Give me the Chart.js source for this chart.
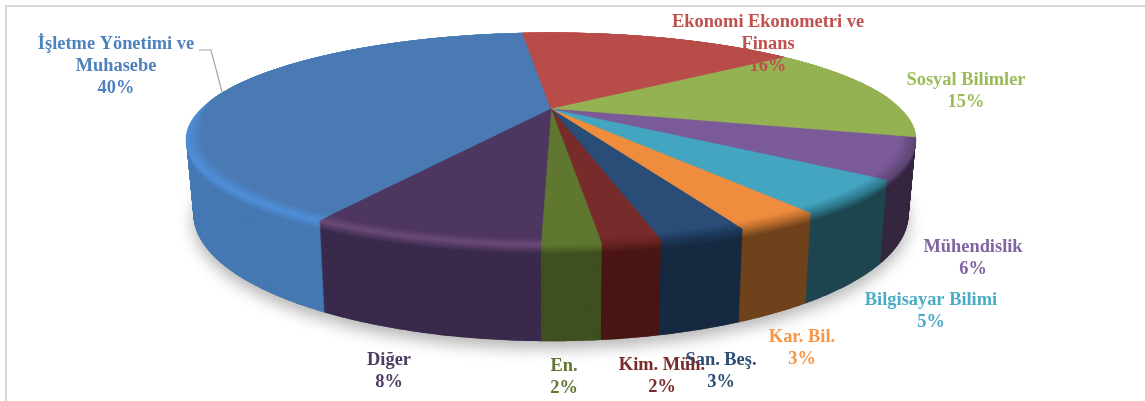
<!DOCTYPE html>
<html>
<head>
<meta charset="utf-8">
<style>html,body{margin:0;padding:0;background:#fff}canvas{display:block}</style>
<script src="https://cdn.jsdelivr.net/npm/chart.js@4/dist/chart.umd.min.js"></script>
</head>
<body>
<canvas id="c" width="1145" height="401"></canvas>
<script>
// Field-of-study shares, shown as a tilted pie with a thick rim
const categories = ["İşletme Yönetimi ve Muhasebe", "Ekonomi Ekonometri ve Finans", "Sosyal Bilimler", "Mühendislik", "Bilgisayar Bilimi", "Kar. Bil.", "San. Beş.", "Kim. Müh.", "En.", "Diğer"];
const shares = [40, 16, 15, 6, 5, 3, 3, 2, 2, 8];

const topColors  = ["#4a7ab3", "#b84c49", "#95b253", "#7b5a99", "#44a5c0", "#ee8d3e", "#2a4d78", "#772c2b", "#5f772f", "#4d3660"];
const rimColors  = ["#4f8fd8", "#b84c49", "#95b253", "#5e4675", "#2f7a8e", "#b96d30", "#1f3a5c", "#6a2524", "#5f772f", "#6b4a78"];
const wallColors = ["#4679b3", "#8f3a38", "#6f8a3c", "#35263f", "#1f4650", "#70431d", "#172a42", "#4a1615", "#3f5020", "#3a2a4c"];
const textColors = ["#4f81bd", "#c0504d", "#9bbb59", "#8064a2", "#4bacc6", "#f79646", "#2c4d75", "#772c2a", "#5f7530", "#4d3b62"];

// Wrapped label lines and their anchor (centre x, first line middle y)
const labelLines = [["İşletme Yönetimi ve", "Muhasebe"], ["Ekonomi Ekonometri ve", "Finans"], ["Sosyal Bilimler"], ["Mühendislik"], ["Bilgisayar Bilimi"], ["Kar. Bil."], ["San. Beş."], ["Kim. Müh."], ["En."], ["Diğer"]];
const labelSpots = [[116, 44], [768, 22], [966, 80], [973, 247], [931, 300], [802, 337], [721, 360], [662, 365], [564, 366], [389, 360]];

// Perspective applied to the flat pie: far side shrinks, near side grows
const TILT = { a: 350, b: 97.5, k: 0.283, depth: 69, taper: 0.02 };

function project(cx, cy, angle, radial, t) {
  const ux = Math.cos(angle) * radial, uy = Math.sin(angle) * radial;
  const w = 1 - TILT.k * uy;
  return [
    cx + TILT.a * ux * (1 - TILT.taper * t) / w,
    cy + (TILT.b * uy + TILT.depth * t) / w
  ];
}

// inset pulls the outer edge inward, only on the side facing the viewer
function slicePath(ctx, arc, t, inset) {
  const p0 = project(arc.x, arc.y, 0, 0, t);
  ctx.beginPath();
  ctx.moveTo(p0[0], p0[1]);
  const n = Math.max(4, Math.ceil((arc.endAngle - arc.startAngle) / 0.01));
  for (let i = 0; i <= n; i++) {
    const ang = arc.startAngle + (arc.endAngle - arc.startAngle) * i / n;
    const facing = Math.min(1, Math.max(0, (Math.sin(ang) + 0.1) / 0.3));
    const p = project(arc.x, arc.y, ang, 1 - inset * facing, t);
    ctx.lineTo(p[0], p[1]);
  }
  ctx.closePath();
}

function mix(c1, c2, f) {
  const v = (c, i) => parseInt(c.substr(1 + i * 2, 2), 16);
  const ch = i => Math.round(v(c1, i) + (v(c2, i) - v(c1, i)) * f);
  return "rgb(" + ch(0) + "," + ch(1) + "," + ch(2) + ")";
}

function wallShade(i, t) {
  return t < 0.1 ? mix(rimColors[i], wallColors[i], t / 0.1) : wallColors[i];
}

const tiltedPie = {
  id: "tiltedPie",
  beforeDatasetsDraw(chart) {
    const ctx = chart.ctx;
    const arcs = chart.getDatasetMeta(0).data;

    // Soft shadow under the base
    ctx.save();
    ctx.shadowColor = "rgba(0,0,0,0.3)";
    ctx.shadowBlur = 16;
    ctx.shadowOffsetY = 7;
    ctx.fillStyle = "#666";
    arcs.forEach(arc => { slicePath(ctx, arc, 1, 0); ctx.fill(); });
    ctx.restore();

    // Rim: stacked layers from the base up to the top face
    const steps = 130;
    for (let s = steps; s > 0; s--) {
      const t = s / steps;
      arcs.forEach((arc, i) => {
        ctx.fillStyle = wallShade(i, t);
        slicePath(ctx, arc, t, 0);
        ctx.fill();
      });
    }

    // Top face with a bevel that fades inward from the near edge
    const bevelSteps = 10, bevelWidth = 0.04;
    for (let b = 0; b <= bevelSteps; b++) {
      const f = b / bevelSteps;
      arcs.forEach((arc, i) => {
        const colour = mix(rimColors[i], topColors[i], f);
        ctx.fillStyle = colour;
        ctx.strokeStyle = colour;
        ctx.lineWidth = 0.5;
        slicePath(ctx, arc, 0, bevelWidth * f);
        ctx.fill();
        ctx.stroke();
      });
    }
    return false;
  },
  afterDraw(chart) {
    const ctx = chart.ctx;
    ctx.save();

    // Outer frame, top and left edges
    ctx.strokeStyle = "#d9d9d9";
    ctx.lineWidth = 2;
    ctx.beginPath();
    ctx.moveTo(6, 401);
    ctx.lineTo(6, 6);
    ctx.lineTo(1145, 6);
    ctx.stroke();

    // Leader line for the largest slice
    ctx.strokeStyle = "#a6a6a6";
    ctx.lineWidth = 1.2;
    ctx.beginPath();
    ctx.moveTo(199, 50);
    ctx.lineTo(211, 50);
    ctx.lineTo(222, 92);
    ctx.stroke();

    ctx.font = 'bold 18.4px "Liberation Serif", serif';
    ctx.textAlign = "center";
    ctx.textBaseline = "middle";
    categories.forEach((name, i) => {
      ctx.fillStyle = textColors[i];
      const [x, y] = labelSpots[i];
      const lines = labelLines[i].concat([shares[i] + "%"]);
      lines.forEach((line, j) => ctx.fillText(line, x, y + j * 22));
    });
    ctx.restore();
  }
};

new Chart(document.getElementById("c"), {
  type: "pie",
  data: {
    labels: categories,
    datasets: [{ data: shares, backgroundColor: topColors, borderWidth: 0 }]
  },
  options: {
    responsive: false,
    animation: false,
    rotation: 210,
    layout: { padding: { right: 43, bottom: 183 } },
    plugins: { legend: { display: false }, tooltip: { enabled: false } }
  },
  plugins: [tiltedPie]
});
</script>
</body>
</html>
